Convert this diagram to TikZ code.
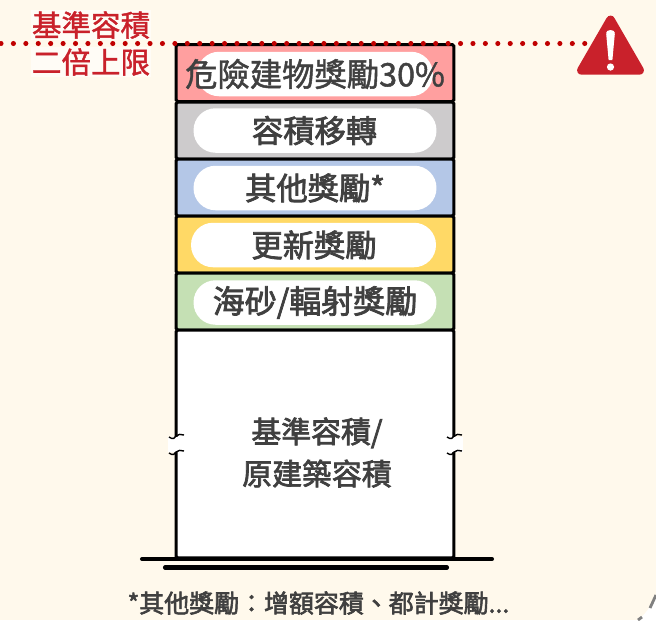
\documentclass[tikz,border=0pt]{standalone}
\usepackage{fontspec}
\setmainfont{Noto Sans CJK TC}
\newfontfamily\medfont{Noto Sans CJK TC}[FakeBold=2.4]
\newfontfamily\regfont{Noto Sans CJK TC}[FakeBold=1.4]
\usepackage{tikz}
\usetikzlibrary{calc,shapes,positioning}
\definecolor{bgcream}{HTML}{FFF9EC}
\definecolor{capred}{HTML}{C00000}
\definecolor{signred}{HTML}{C9212B}
\definecolor{txtgray}{HTML}{404040}
\definecolor{barred}{HTML}{FF9F9F}
\definecolor{bargray}{HTML}{CDCBCC}
\definecolor{barblue}{HTML}{B4C7E7}
\definecolor{baryellow}{HTML}{FFD966}
\definecolor{bargreen}{HTML}{C5E0B4}

\begin{document}
\begin{tikzpicture}[x=0.02cm,y=-0.02cm]
      \tikzstyle{bnode} = [line width=1.7pt, draw=black, rectangle, rounded corners = 1pt, inner sep = 0pt, minimum width = 5.56cm]
      \tikzstyle{pnode} = [fill=white, rectangle, rounded corners = 0.44cm, inner sep = 0pt, minimum height = 0.89cm]
      \tikzstyle{tnode} = [text=txtgray, font=\fontsize{17.8}{20}\selectfont\medfont]
      \tikzstyle{lnode} = [inner sep = 0.5pt, fill=white, fill opacity=0.55, text opacity=1, text=signred, font=\fontsize{16.8}{19}\selectfont\regfont]

      \useasboundingbox[fill=bgcream] (0,0) rectangle (656,620);

      % floors
      \node[bnode, fill=barred, minimum height=1.14cm] (b1) at (315,73) {};
      \node[bnode, fill=bargray, minimum height=1.14cm] (b2) at (315,130.5) {};
      \node[bnode, fill=barblue, minimum height=1.14cm] (b3) at (315,187.5) {};
      \node[bnode, fill=baryellow, minimum height=1.14cm] (b4) at (315,244.5) {};
      \node[bnode, fill=bargreen, minimum height=1.14cm] (b5) at (315,301.5) {};
      \node[bnode, fill=white, minimum height=4.56cm] (b6) at (315,444) {};

      % labels
      \node[pnode, minimum width=4.72cm] (p1) at (315,74) {};
      \node[pnode, minimum width=4.86cm] (p2) at (315,130.5) {};
      \node[pnode, minimum width=4.86cm] (p3) at (315,188) {};
      \node[pnode, minimum width=4.9cm] (p4) at (313.5,245) {};
      \node[pnode, minimum width=4.86cm] (p5) at (315,302.5) {};

      \node[tnode, font=\fontsize{18.4}{20}\selectfont\regfont] (t1) at (315,74) {危險建物獎勵30\%};
      \node[tnode] (t2) at (314.5,130.5) {容積移轉};
      \node[tnode] (t3) at (315,188) {其他獎勵*};
      \node[tnode] (t4) at (314,245) {更新獎勵};
      \node[tnode, font=\fontsize{18.2}{20}\selectfont\medfont] (t5) at (315,302.5) {海砂/輻射獎勵};
      \node[tnode, align=center, font=\fontsize{17}{24}\selectfont\medfont] (t6) at (317,452.5) {基準容積/\\原建築容積};

      % breaks in the walls
      \fill[white] (168,437) rectangle (186,452);
      \fill[white] (445,437) rectangle (463,452);
      \foreach \xb in {176,454}
      {
        \draw[line width=0.8pt] (\xb-7,437) .. controls (\xb-3,440) and (\xb-1,438) .. (\xb,436) .. controls (\xb+2,434) and (\xb+5,434) .. (\xb+8,435);
        \draw[line width=0.8pt] (\xb-7,453) .. controls (\xb-3,456) and (\xb-1,454) .. (\xb,452) .. controls (\xb+2,450) and (\xb+5,450) .. (\xb+8,451);
      }

      % ground
      \coordinate (g1l) at (142,559);
      \coordinate (g1r) at (492,559);
      \coordinate (g2l) at (165,567.5);
      \coordinate (g2r) at (447,567.5);
      \draw[line width=2.3pt, line cap=round] (g1l) -- (g1r);
      \draw[line width=2.3pt, line cap=round] (g2l) -- (g2r);

      % warning sign
      \node[draw=signred, fill=signred, line width=5pt, line join=round, regular polygon, regular polygon sides=3, inner sep=0pt, minimum size=1.34cm] (warn) at (610.5,53.5) {};
      \fill[white] (610.5,33) ellipse (4.4 and 3) (606.2,34) -- (614.8,34) -- (612.4,60) -- (608.6,60) -- cycle;
      \fill[white] (610.5,67) circle (3.6);

      % cap line
      \coordinate (capl) at (1,43.5);
      \draw[capred, line width=2.9pt, line cap=round, dash pattern=on 0pt off 12.42*0.02cm] (capl) -- (warn.west |- capl);

      \node[lnode] (l1) at (91,25) {基準容積};
      \node[lnode] (l2) at (91,62) {二倍上限};

      % note
      \node[tnode, font=\fontsize{14.2}{16}\selectfont\medfont] (note) at (318.5,603) {*其他獎勵：增額容積、都計獎勵...};

      % page corner
      \fill[white] (656,595) .. controls (650,608) and (645,615) .. (637,620) -- (656,620) -- cycle;
      \draw[gray, line width=1.6pt] (656,595) -- (650,608);
      \draw[gray, line width=1.6pt] (642,617) -- (638,620);
\end{tikzpicture}
\end{document}
